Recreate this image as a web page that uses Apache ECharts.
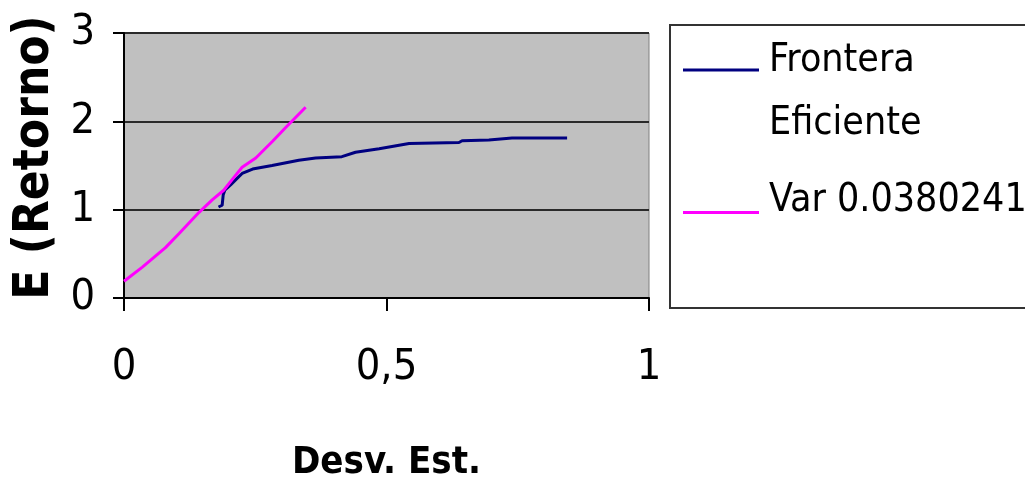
<!DOCTYPE html>
<html>
<head>
<meta charset="utf-8">
<title>Frontera Eficiente</title>
<style>
  html, body { margin: 0; padding: 0; background: #fff; }
  #chart { width: 1025px; height: 479px; }
</style>
</head>
<body>
<div id="chart"></div>
<script src="https://cdn.jsdelivr.net/npm/echarts/dist/echarts.min.js"></script>
<script>
// valores
var fronteraX = [0.180, 0.187, 0.189, 0.192, 0.203, 0.213, 0.225, 0.245, 0.282, 0.333, 0.365, 0.415, 0.441, 0.486, 0.543, 0.638, 0.644, 0.695, 0.739, 0.844];
var fronteraY = [1.03, 1.05, 1.17, 1.22, 1.28, 1.34, 1.41, 1.46, 1.50, 1.56, 1.585, 1.60, 1.65, 1.69, 1.75, 1.76, 1.78, 1.79, 1.81, 1.81];
var varX = [0, 0.035, 0.079, 0.105, 0.143, 0.168, 0.190, 0.206, 0.225, 0.251, 0.283, 0.308, 0.346];
var varY = [0.19, 0.35, 0.57, 0.73, 0.97, 1.11, 1.22, 1.34, 1.48, 1.585, 1.775, 1.93, 2.16];
var xTicks = [0, 0.5, 1];
var xTickLabels = ['0', '0,5', '1'];
var seriesNames = ['Frontera Eficiente', 'Var 0.0380241'];

function pares(xs, ys) {
  return xs.map(function (x, i) { return [x, ys[i]]; });
}

var fuente = "'Liberation Sans Narrow', 'Arial Narrow', 'DejaVu Sans Condensed', 'Liberation Sans', Arial, sans-serif";

// icono de leyenda: barra de 3px, con un punto invisible para desplazarla como en Excel
var iconoArriba = 'path://M0,0 L76,0 L76,3 L0,3 Z M0,47 L0,47 Z';
var iconoAbajo = 'path://M0,0 L0,0 Z M0,34 L76,34 L76,37 L0,37 Z M0,47 L0,47 Z';

var myChart = echarts.init(document.getElementById('chart'));
myChart.setOption({
  backgroundColor: '#fff',
  animation: false,
  textStyle: { fontFamily: fuente, color: '#000' },
  grid: {
    left: 124, right: 376, top: 33, bottom: 181,
    containLabel: false, outerBoundsMode: 'none',
    show: true, backgroundColor: '#c0c0c0', borderColor: '#808080', borderWidth: 1
  },
  legend: {
    orient: 'vertical',
    left: 670, top: 25,
    padding: [4, 40, 76, 13],
    itemGap: 14,
    itemWidth: 76, itemHeight: 47,
    borderColor: '#333', borderWidth: 2,
    backgroundColor: '#fff',
    data: [
      { name: seriesNames[0], icon: iconoArriba },
      { name: seriesNames[1], icon: iconoAbajo }
    ],
    formatter: function (n) { return n === seriesNames[0] ? 'Frontera\nEficiente' : n; },
    textStyle: { fontFamily: fuente, fontSize: 39, lineHeight: 63, color: '#000', padding: [0, 0, 0, 5] }
  },
  xAxis: {
    type: 'value', min: 0, max: 1, interval: 0.5,
    name: 'Desv. Est.', nameLocation: 'middle', nameGap: 146,
    nameTextStyle: { fontFamily: fuente, fontSize: 38, fontWeight: 'bold', color: '#000' },
    axisLine: { show: true, lineStyle: { color: '#000', width: 2 } },
    axisTick: { show: true, inside: false, length: 13, lineStyle: { color: '#000', width: 2 } },
    axisLabel: {
      margin: 48, fontSize: 43, color: '#000', fontFamily: fuente,
      formatter: function (v) { var i = xTicks.indexOf(v); return i >= 0 ? xTickLabels[i] : ''; }
    },
    splitLine: { show: false }
  },
  yAxis: {
    type: 'value', min: 0, max: 3, interval: 1,
    name: 'E (Retorno)', nameLocation: 'middle', nameGap: 62, nameRotate: 90,
    nameTextStyle: { fontFamily: fuente, fontSize: 49, fontWeight: 'bold', color: '#000', padding: [0, 0, 0, 16] },
    axisLine: { show: true, lineStyle: { color: '#000', width: 2 } },
    axisTick: { show: true, length: 11, lineStyle: { color: '#000', width: 2 } },
    axisLabel: { margin: 29, fontSize: 43, color: '#000', fontFamily: fuente },
    splitLine: { show: true, lineStyle: { color: '#2a2a2a', width: 2 } }
  },
  series: [
    {
      name: seriesNames[0], type: 'line', data: pares(fronteraX, fronteraY),
      showSymbol: false, symbol: 'none',
      lineStyle: { color: '#000080', width: 3 }, itemStyle: { color: '#000080' }
    },
    {
      name: seriesNames[1], type: 'line', data: pares(varX, varY),
      showSymbol: false, symbol: 'none',
      lineStyle: { color: '#ff00ff', width: 3 }, itemStyle: { color: '#ff00ff' }
    }
  ]
});
</script>
</body>
</html>
